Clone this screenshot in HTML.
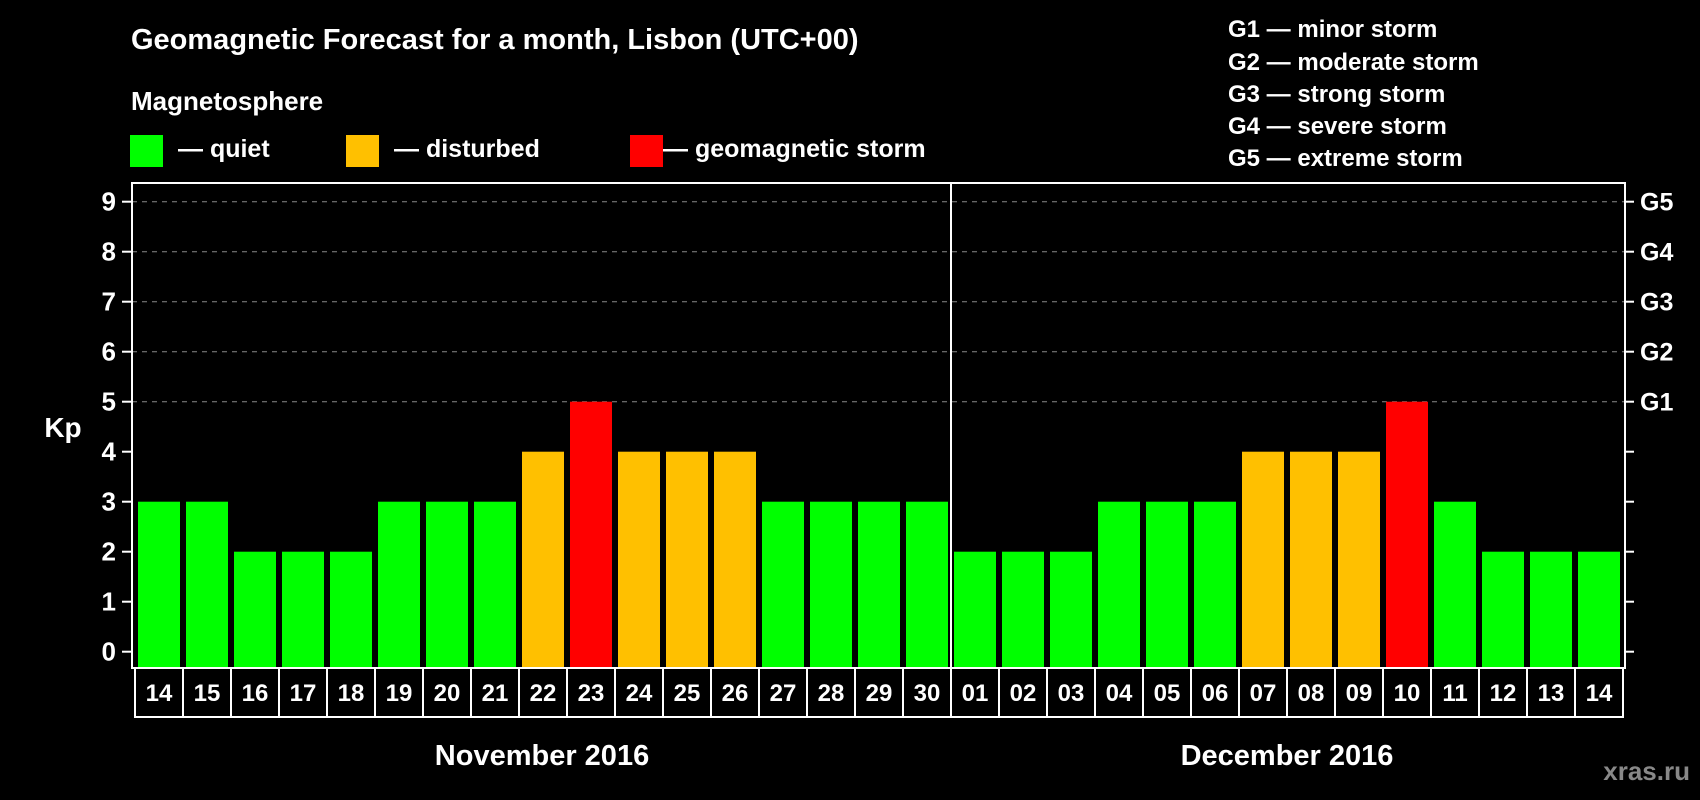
<!DOCTYPE html>
<html><head><meta charset="utf-8"><style>
html,body{margin:0;padding:0;background:#000;}
svg{display:block;font-family:"Liberation Sans",Arial,sans-serif;font-weight:bold;}
</style></head><body>
<svg id="chart" width="1700" height="800" viewBox="0 0 1700 800" xmlns="http://www.w3.org/2000/svg">
<rect x="0" y="0" width="1700" height="800" fill="#000"/>
<text x="131" y="49" fill="#fff" font-size="29">Geomagnetic Forecast for a month, Lisbon (UTC+00)</text>
<text x="131" y="110" fill="#fff" font-size="26">Magnetosphere</text>
<rect x="130" y="135" width="33" height="32" fill="#00ff00"/>
<text x="178" y="157" fill="#fff" font-size="25">— quiet</text>
<rect x="346" y="135" width="33" height="32" fill="#ffc000"/>
<text x="394" y="157" fill="#fff" font-size="25">— disturbed</text>
<rect x="630" y="135" width="33" height="32" fill="#ff0000"/>
<text x="663" y="157" fill="#fff" font-size="25">— geomagnetic storm</text>
<g font-size="24" fill="#fff">
<text x="1228" y="37">G1 — minor storm</text>
<text x="1228" y="70">G2 — moderate storm</text>
<text x="1228" y="102">G3 — strong storm</text>
<text x="1228" y="134">G4 — severe storm</text>
<text x="1228" y="166">G5 — extreme storm</text>
</g>
<text x="63" y="437" fill="#fff" font-size="28" text-anchor="middle">Kp</text>
<text x="542" y="765" fill="#fff" font-size="29" text-anchor="middle">November 2016</text>
<text x="1287" y="765" fill="#fff" font-size="29" text-anchor="middle">December 2016</text>
<text x="1690" y="780" fill="#888" font-size="26" text-anchor="end">xras.ru</text>
<g id="plot"></g>
</svg>
<script>
const days = ["14","15","16","17","18","19","20","21","22","23","24","25","26","27","28","29","30","01","02","03","04","05","06","07","08","09","10","11","12","13","14"];
const kpValues = [3,3,2,2,2,3,3,3,4,5,4,4,4,3,3,3,3,2,2,2,3,3,3,4,4,4,5,3,2,2,2];
const yTicks = [0,1,2,3,4,5,6,7,8,9];
const gLabels = ["G1","G2","G3","G4","G5"];
const gLevels = [5,6,7,8,9];
const monthBreakIndex = 17;

const NS = "http://www.w3.org/2000/svg";
const g = document.getElementById("plot");
const L = 132, R = 1625, T = 183, B = 668;
const cellX0 = 135, cellW = 48;
function yScale(v){ return 651.7 - v * 50; }
function xScale(i){ return cellX0 + i * cellW; }
function mk(tag, attrs){ const e = document.createElementNS(NS, tag); for (const k in attrs) e.setAttribute(k, attrs[k]); g.appendChild(e); return e; }
function color(v){ return v >= 5 ? "#ff0000" : v >= 4 ? "#ffc000" : "#00ff00"; }

// grid lines
gLevels.forEach(v => {
  const ln = mk("line", {x1: L, x2: R, y1: yScale(v), y2: yScale(v), stroke: "#888", "stroke-width": 1, "stroke-dasharray": "5,5"});
  
  
});
// bars
kpValues.forEach((v, i) => {
  const r = mk("rect", {x: xScale(i) + 3, y: yScale(v), width: 42, height: B - yScale(v), fill: color(v)});
  
  
});
// plot frame
const fr = mk("rect", {x: L, y: T, width: R - L, height: B - T, fill: "none", stroke: "#fff", "stroke-width": 2});


const dv = mk("line", {x1: xScale(monthBreakIndex), x2: xScale(monthBreakIndex), y1: T, y2: B, stroke: "#fff", "stroke-width": 2});


// y ticks
yTicks.forEach(v => {
  const t = mk("line", {x1: 122, x2: L, y1: yScale(v), y2: yScale(v), stroke: "#fff", "stroke-width": 2});
  
  
  const t2 = mk("line", {x1: R, x2: R + 9, y1: yScale(v), y2: yScale(v), stroke: "#fff", "stroke-width": 2});
  
  
  const tx = mk("text", {x: 116, y: yScale(v) + 9, fill: "#fff", "font-size": 26, "text-anchor": "end"});
  tx.textContent = v;
  
  
});
gLevels.forEach((v, i) => {
  const tx = mk("text", {x: 1640, y: yScale(v) + 9, fill: "#fff", "font-size": 25});
  tx.textContent = gLabels[i];
  
  
});
// day cells
days.forEach((d, i) => {
  const c = mk("rect", {x: xScale(i), y: B, width: cellW, height: 49, fill: "none", stroke: "#fff", "stroke-width": 2});
  
  
  const tx = mk("text", {x: xScale(i) + cellW / 2, y: 701, fill: "#fff", "font-size": 24, "text-anchor": "middle"});
  tx.textContent = d;
  
  
});
</script>
</body></html>
